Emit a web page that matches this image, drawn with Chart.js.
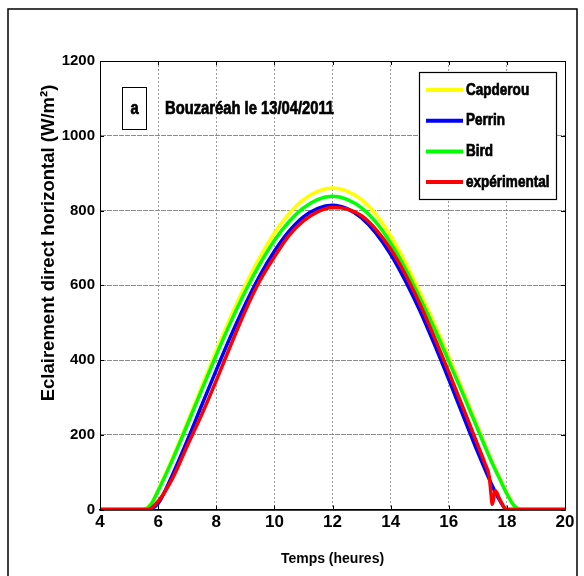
<!DOCTYPE html>
<html>
<head>
<meta charset="utf-8">
<title>Bouzaréah 13/04/2011</title>
<script src="https://cdn.jsdelivr.net/npm/chart.js@4.4.0/dist/chart.umd.min.js"></script>
<style>
  html, body { margin: 0; padding: 0; background: #fff; }
</style>
</head>
<body>
<canvas id="chart" width="584" height="576"></canvas>
<script>
// heures (axe x) communes aux trois modèles
const hours = [4, 5, 5.5, 5.75, 6, 6.5, 7, 7.5, 8, 8.5, 9, 9.5, 10, 10.5, 11, 11.5, 12,
  12.5, 13, 13.5, 14, 14.5, 15, 15.5, 16, 16.5, 17, 17.5, 17.75, 18, 18.25, 18.5, 19, 20];
const capderou = [0, 0, 0, 15, 53, 139, 233, 330, 425, 516, 600, 675, 740, 791, 829, 852, 860,
  852, 829, 789, 732, 662, 582, 498, 408, 315, 220, 126, 85, 44, 10, 0, 0, 0];
const perrin = [0, 0, 0, 2, 16, 94, 184, 279, 373, 464, 549, 626, 691, 744, 783, 806, 814,
  805, 780, 739, 683, 613, 533, 443, 348, 250, 153, 63, 25, 0, 0, 0, 0, 0];
const bird = [0, 0, 0, 13, 50, 134, 226, 320, 413, 502, 584, 657, 720, 770, 807, 830, 838,
  830, 807, 768, 713, 645, 567, 485, 397, 307, 214, 123, 82, 42, 10, 0, 0, 0];

// mesures
const expHours = [4, 5, 5.5, 5.65, 6, 6.5, 7, 7.5, 8, 8.5, 9, 9.5, 10, 10.5, 11, 11.5, 12,
  12.5, 13, 13.5, 14, 14.5, 15, 15.5, 16, 16.5, 17, 17.25, 17.4, 17.45, 17.5, 17.55, 17.6,
  17.75, 17.9, 17.95, 18.5, 19, 20];
const experimental = [0, 0, 0, 0, 22, 84, 170, 254, 345, 440, 532, 612, 676, 733, 772, 797, 808,
  804, 786, 749, 697, 630, 551, 462, 368, 271, 172, 122, 85, 45, 14, 32, 50,
  28, 6, 0, 0, 0, 0];

const seriesNames = ['Capderou', 'Perrin', 'Bird', 'expérimental'];
const seriesColors = ['#ffff00', '#0000ff', '#00ff00', '#ff0000'];
const panelLetter = 'a';
const panelTitle = 'Bouzaréah le 13/04/2011';
const xTitle = 'Temps (heures)';
const yTitle = 'Eclairement direct horizontal (W/m²)';

const FONT = '"Liberation Sans", Arial, sans-serif';

const toPoints = function (xs, ys) {
  return xs.map((x, i) => ({ x: x, y: ys[i] }));
};

const makeSet = function (i, xs, ys, order) {
  return {
    label: seriesNames[i],
    data: toPoints(xs, ys),
    borderColor: seriesColors[i],
    backgroundColor: seriesColors[i],
    borderWidth: 3.5,
    pointRadius: 0,
    cubicInterpolationMode: 'monotone',
    order: order,
  };
};

// texte "étroit" : police normale compressée horizontalement, un peu épaissie
const narrowText = function (ctx, txt, x, y, size, align) {
  ctx.save();
  ctx.translate(x, y);
  ctx.scale(0.82, 1);
  ctx.textAlign = align;
  ctx.textBaseline = 'middle';
  ctx.font = 'bold ' + size + 'px ' + FONT;
  ctx.fillStyle = '#000';
  ctx.strokeStyle = '#000';
  ctx.lineWidth = 0.7;
  ctx.fillText(txt, 0, 0);
  ctx.strokeText(txt, 0, 0);
  ctx.restore();
};

// cadre, graduations internes, légende, encadré "a", titre de l'axe y
const extras = {
  id: 'extras',
  afterDraw(chart) {
    const ctx = chart.ctx;
    const a = chart.chartArea;
    const xs = chart.scales.x;
    const ys = chart.scales.y;
    const line = function (x1, y1, x2, y2) {
      ctx.beginPath();
      ctx.moveTo(x1, y1);
      ctx.lineTo(x2, y2);
      ctx.stroke();
    };
    ctx.save();
    ctx.strokeStyle = '#000';
    ctx.lineWidth = 1.5;
    ctx.strokeRect(8, 9, 569, 600);

    ctx.lineWidth = 1;
    ctx.strokeRect(a.left + 0.5, a.top + 0.5, a.right - a.left, a.bottom - a.top);
    for (const t of xs.ticks) {
      const px = Math.round(xs.getPixelForValue(t.value)) + 0.5;
      line(px, a.top, px, a.top + 4);
      line(px, a.bottom, px, a.bottom - 4);
    }
    for (const t of ys.ticks) {
      const py = Math.round(ys.getPixelForValue(t.value)) + 0.5;
      line(a.left, py, a.left + 4, py);
      line(a.right, py, a.right - 4, py);
    }

    // encadré "a" + titre du panneau
    ctx.strokeRect(122.5, 87.5, 24, 42);
    narrowText(ctx, panelLetter, 134.5, 109, 18, 'center');
    narrowText(ctx, panelTitle, 165, 109, 18, 'left');

    // légende
    ctx.fillStyle = '#fff';
    ctx.fillRect(419, 72, 137, 127);
    ctx.strokeStyle = '#000';
    ctx.lineWidth = 1.2;
    ctx.strokeRect(419.5, 72.5, 137, 127);
    chart.data.datasets.forEach(function (ds, i) {
      const yy = 90 + i * 30.7;
      ctx.strokeStyle = ds.borderColor;
      ctx.lineWidth = 4;
      line(426, yy, 463, yy);
      narrowText(ctx, ds.label, 466, yy, 16.5, 'left');
    });

    // titre axe y
    ctx.translate(49, 243);
    ctx.rotate(-Math.PI / 2);
    ctx.textAlign = 'center';
    ctx.textBaseline = 'middle';
    ctx.font = 'bold 18.5px ' + FONT;
    ctx.fillStyle = '#000';
    ctx.fillText(yTitle, 0, 0);
    ctx.restore();
  },
};

const config = {
  type: 'line',
  data: {
    datasets: [
      makeSet(0, hours, capderou, 3),
      makeSet(1, hours, perrin, 2),
      makeSet(2, hours, bird, 1),
      makeSet(3, expHours, experimental, 0),
    ],
  },
  options: {
    responsive: false,
    animation: false,
    layout: { padding: { left: 0, top: 61, right: 19, bottom: 0 } },
    plugins: {
      legend: { display: false },
      tooltip: { enabled: false },
    },
    scales: {
      x: {
        type: 'linear',
        min: 4,
        max: 20,
        ticks: {
          stepSize: 2,
          color: '#000',
          padding: 3,
          font: { family: FONT, size: 17, weight: 'bold' },
          callback: (v) => String(v),
        },
        grid: { color: '#9a9a9a', drawTicks: false },
        border: { color: '#000', width: 1.5, dash: [2, 2] },
        title: {
          display: true,
          text: xTitle,
          color: '#000',
          font: { family: FONT, size: 14, weight: 'bold' },
          padding: { top: 0, bottom: 8 },
        },
        afterFit: function (s) { s.height = 66.5; },
      },
      y: {
        min: 0,
        max: 1200,
        ticks: {
          stepSize: 200,
          color: '#000',
          padding: 5,
          font: { family: FONT, size: 15, weight: 'bold' },
          callback: (v) => String(v),
        },
        grid: { color: '#8c8c8c', drawTicks: false },
        border: { color: '#000', width: 1, dash: [5, 1] },
        afterFit: function (s) { s.width = 100; },
      },
    },
  },
  plugins: [extras],
};

const init = function () {
  new Chart(document.querySelector('#chart'), config);
};
document.addEventListener('DOMContentLoaded', init);
</script>
</body>
</html>
